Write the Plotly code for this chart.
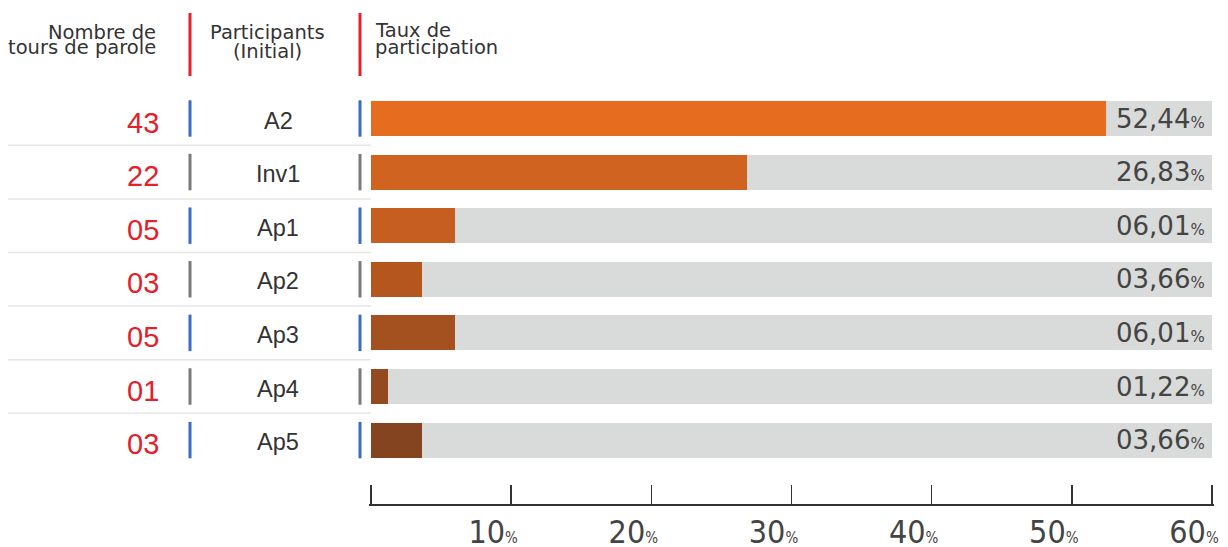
import plotly.graph_objects as go

# ── Data ────────────────────────────────────────────────────────────────
participants = ["A2", "Inv1", "Ap1", "Ap2", "Ap3", "Ap4", "Ap5"]
tours = [43, 22, 5, 3, 5, 1, 3]
taux = [52.44, 26.83, 6.01, 3.66, 6.01, 1.22, 3.66]
taux_labels = ["52,44", "26,83", "06,01", "03,66", "06,01", "01,22", "03,66"]
x_ticks = [0, 10, 20, 30, 40, 50, 60]
x_max = 60

# ── Style ───────────────────────────────────────────────────────────────
W, H = 1228, 547
_BAR_COLOURS = ["#e66c20", "#d06320", "#c55e20", "#b5561f",
                "#a4501f", "#934a20", "#84441f"]
_TRACK = "#d9dada"
_RED = "#e3212b"
_BLUE = "#3b6bc4"
_GREY = "#7a7a7a"
_TEXT = "#333333"
_HEAD_FONT = "DejaVu Sans"
_NARROW = "Liberation Sans Narrow, DejaVu Sans Condensed, Liberation Sans"

ROW0, ROW_STEP = 118.5, 53.6     # pixel centre of first row, row pitch
AXIS_Y = 504                     # pixel y of the x axis line
X0_PX, X60_PX = 371, 1212        # pixel x of 0 % and 60 %
EDGE_PX = 2                      # plotly hides inside ticks within 1px of the ends
top_val = -ROW0 / ROW_STEP
bot_val = top_val + AXIS_Y / ROW_STEP
PAD = EDGE_PX * x_max / (X60_PX - X0_PX)


def px_x(p):
    """Screen x (pixels) -> paper fraction."""
    return p / W


def px_y(p):
    """Screen y (pixels from top) -> paper fraction."""
    return 1 - p / H


rows = list(range(len(participants)))

fig = go.Figure()
fig.add_trace(go.Bar(
    x=[x_max] * len(rows), y=rows, orientation="h", width=0.65,
    marker=dict(color=_TRACK, line=dict(width=0)), hoverinfo="skip",
))
fig.add_trace(go.Bar(
    x=taux, y=rows, orientation="h", width=0.65,
    marker=dict(color=_BAR_COLOURS, line=dict(width=0)),
    hovertemplate="%{x:.2f}%<extra></extra>",
))

shapes = []
annotations = []

# header separators
for xp in (190, 360):
    shapes.append(dict(type="line", xref="paper", yref="paper",
                       x0=px_x(xp), x1=px_x(xp), y0=px_y(13), y1=px_y(76),
                       line=dict(color=_RED, width=3)))

headers = [
    ("Nombre de", 158, 32, "right"),
    ("tours de parole", 158, 48, "right"),
    ("Participants", 267, 33, "center"),
    ("(Initial)", 267, 51, "center"),
    ("Taux de", 373, 30, "left"),
    ("participation", 373, 48, "left"),
]
for txt, xp, yp, anchor in headers:
    annotations.append(dict(text=txt, xref="paper", yref="paper",
                            x=px_x(xp), y=px_y(yp), xanchor=anchor,
                            yanchor="middle", showarrow=False,
                            font=dict(family=_HEAD_FONT, size=19.5, color=_TEXT)))

for i, (name, n, lab) in enumerate(zip(participants, tours, taux_labels)):
    col = _BLUE if i % 2 == 0 else _GREY
    for xp in (190, 360):
        shapes.append(dict(type="line", xref="paper", yref="y",
                           x0=px_x(xp), x1=px_x(xp), y0=i - 0.34, y1=i + 0.34,
                           line=dict(color=col, width=3)))
    if i < len(rows) - 1:
        shapes.append(dict(type="line", xref="paper", yref="y",
                           x0=px_x(8), x1=px_x(371), y0=i + 0.5, y1=i + 0.5,
                           line=dict(color="#e6e6e6", width=1.5)))
    annotations.append(dict(text=f"{n:02d}", xref="paper", yref="y",
                            x=px_x(161), y=i, yshift=-4, xanchor="right",
                            yanchor="middle", showarrow=False,
                            font=dict(family="Liberation Sans", size=29, color=_RED)))
    annotations.append(dict(text=name, xref="paper", yref="y",
                            x=px_x(278), y=i, yshift=-2, xanchor="center",
                            yanchor="middle", showarrow=False,
                            font=dict(family="Liberation Sans", size=23.5, color=_TEXT)))
    annotations.append(dict(text=f"{lab}<span style='font-size:15px'>%</span>",
                            xref="x", yref="y", x=x_max, y=i, xshift=-5,
                            xanchor="right", yanchor="middle", showarrow=False,
                            font=dict(family=_HEAD_FONT, size=26, color="#444444")))

fig.update_layout(
    template="none",
    width=W, height=H,
    margin=dict(l=0, r=0, t=0, b=0, pad=0, autoexpand=False),
    paper_bgcolor="white", plot_bgcolor="white",
    barmode="overlay", bargap=0, showlegend=False,
    shapes=shapes, annotations=annotations,
    xaxis=dict(
        domain=[px_x(X0_PX - EDGE_PX), px_x(X60_PX + EDGE_PX)],
        range=[-PAD, x_max + PAD],
        automargin=False,
        tickvals=x_ticks,
        ticktext=["" if v == 0 else f"{v}<span style='font-size:15px'>%</span>"
                  for v in x_ticks],
        ticks="inside", ticklen=19, tickwidth=1.5, tickcolor=_TEXT,
        showline=True, linecolor=_TEXT, linewidth=2,
        showgrid=False, zeroline=False,
        ticklabelshift=-18, ticklabelstandoff=-1,
        tickfont=dict(family=_NARROW, size=32, color="#444444"),
        fixedrange=True,
    ),
    yaxis=dict(
        domain=[px_y(AXIS_Y), 1], range=[bot_val, top_val],
        automargin=False,
        showticklabels=False, showgrid=False, zeroline=False, showline=False,
        ticks="", fixedrange=True,
    ),
)

# drop the default 8px body margin so the figure sits at the page origin
fig.write_html("out.html",
               config={"displayModeBar": False, "staticPlot": True},
               post_script="document.body.style.margin='0';"
                           "document.body.style.overflow='hidden';")
